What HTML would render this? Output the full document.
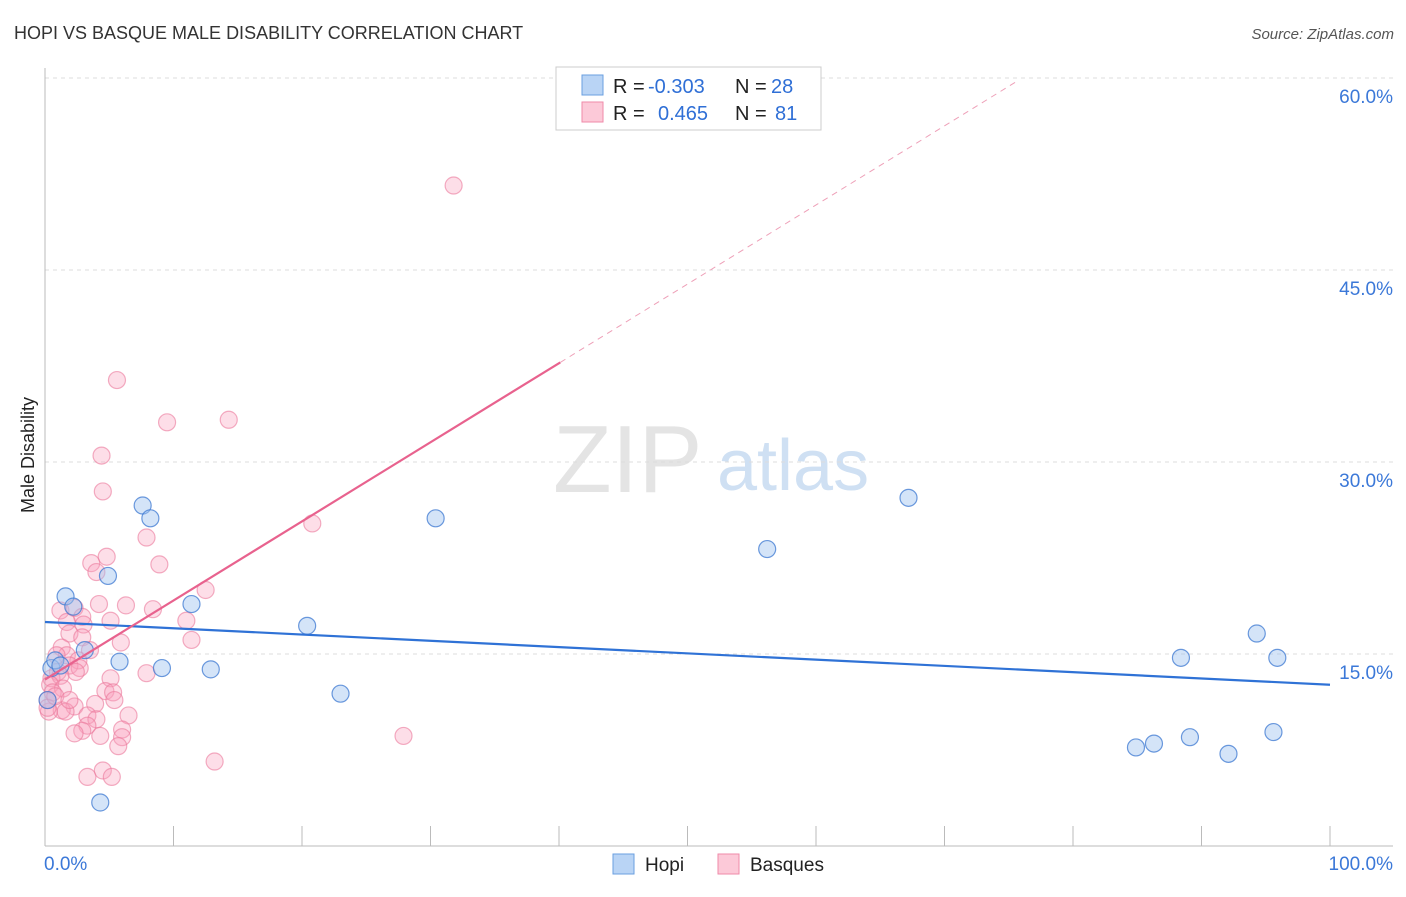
<!DOCTYPE html>
<html><head><meta charset="utf-8"><style>
body{margin:0;background:#fff;font-family:"Liberation Sans",sans-serif}
svg text{font-family:"Liberation Sans",sans-serif}
</style></head><body>
<svg id="chart" width="1406" height="892">
<text x="14" y="39" font-size="18" fill="#333">HOPI VS BASQUE MALE DISABILITY CORRELATION CHART</text>
<text x="1394" y="39" font-size="15" fill="#555" font-style="italic" text-anchor="end">Source: ZipAtlas.com</text>
<text transform="translate(34,455) rotate(-90)" font-size="18" fill="#222" text-anchor="middle">Male Disability</text>
<g>
<text x="553" y="492" font-size="96" fill="#e4e4e4" font-family="Liberation Serif,serif">ZIP</text>
<text x="717" y="490" font-size="72" fill="#cfe0f3">atlas</text>
</g>
<g id="grid"></g><g id="axes"></g><g id="marks"></g>
<g>
<rect x="556" y="67" width="265" height="63" fill="#fff" stroke="#ccc"/>
<rect x="582" y="75" width="21" height="20" fill="#b9d4f5" stroke="#6a9fe0"/>
<rect x="582" y="102" width="21" height="20" fill="#fcc9d8" stroke="#ef8aa9"/>
<text y="93" font-size="20" fill="#222"><tspan x="613">R =</tspan><tspan x="648" fill="#2f6fd6">-0.303</tspan><tspan x="735">N =</tspan><tspan x="771" fill="#2f6fd6">28</tspan></text>
<text y="120" font-size="20" fill="#222"><tspan x="613">R =</tspan><tspan x="658" fill="#2f6fd6">0.465</tspan><tspan x="735">N =</tspan><tspan x="775" fill="#2f6fd6">81</tspan></text>
</g>
<g>
<rect x="613" y="854" width="21" height="20" fill="#b9d4f5" stroke="#6a9fe0"/>
<text x="645" y="871" font-size="19" fill="#222">Hopi</text>
<rect x="718" y="854" width="21" height="20" fill="#fcc9d8" stroke="#ef8aa9"/>
<text x="750" y="871" font-size="19" fill="#222">Basques</text>
</g>
</svg>
<script>
const yTicks=[15,30,45,60];
const yTickLabels=["15.0%","30.0%","45.0%","60.0%"];
const xEndLabels=["0.0%","100.0%"];
const hopiX=[1.6,4.9,7.6,8.2,2.2,3.1,5.8,9.1,11.4,12.9,20.4,23.0,30.4,56.2,67.2,88.4,94.3,95.9,84.9,86.3,89.1,92.1,95.6,4.3,0.5,0.8,1.2,0.2];
const hopiY=[19.5,21.1,26.6,25.6,18.7,15.3,14.4,13.9,18.9,13.8,17.2,11.9,25.6,23.2,27.2,14.7,16.6,14.7,7.7,8.0,8.5,7.2,8.9,3.4,13.9,14.5,14.1,11.4];
const basqueX=[31.8,5.6,9.5,14.3,4.4,4.5,20.8,7.9,4.8,3.6,4.0,8.9,12.5,6.3,8.4,4.2,1.2,2.3,5.1,11.0,2.9,1.7,3.0,1.9,2.9,5.9,11.4,1.3,1.7,2.6,1.9,2.7,1.0,2.4,0.5,1.2,7.9,5.1,0.4,1.4,0.6,4.7,5.3,5.4,3.9,2.3,1.3,1.6,0.3,6.5,3.3,4.0,3.3,6.0,2.9,2.3,4.3,6.0,5.7,27.9,13.2,4.5,3.3,5.2,0.2,0.2,0.8,1.9,0.9,3.5];
const basqueY=[51.6,36.4,33.1,33.3,30.5,27.7,25.2,24.1,22.6,22.1,21.4,22.0,20.0,18.8,18.5,18.9,18.4,18.6,17.6,17.6,17.9,17.5,17.3,16.6,16.3,15.9,16.1,15.5,14.9,14.5,14.1,13.9,13.6,13.6,13.1,13.3,13.5,13.1,12.6,12.3,12.0,12.1,12.0,11.4,11.1,10.9,10.6,10.5,10.5,10.2,10.2,9.9,9.4,9.1,9.0,8.8,8.6,8.5,7.8,8.6,6.6,5.9,5.4,5.4,11.4,10.8,11.7,11.4,14.9,15.3];
const hopiTrend=[17.5,12.6];
const basqueIntercept=13.0, basqueSlope=0.618, basqueSolidEnd=40.1, basqueDashEnd=75.5;

const NS="http://www.w3.org/2000/svg";
const X=v=>45+v*12.85, Y=v=>846-v*12.8;
function mk(parent,tag,attrs){const e=document.createElementNS(NS,tag);for(const k in attrs)e.setAttribute(k,attrs[k]);document.getElementById(parent).appendChild(e);return e;}
yTicks.forEach((t,i)=>{
  const g=mk('grid','line',{x1:45,x2:1393,y1:Y(t),y2:Y(t),stroke:'#ddd','stroke-dasharray':'4,4'});
  
  
  const l=mk('axes','text',{x:1393,y:Y(t)+25,'font-size':19,fill:'#3b78d8','text-anchor':'end'});
  l.textContent=yTickLabels[i];
  
  
});
const ax=mk('axes','line',{x1:45,x2:1393,y1:846,y2:846,stroke:'#bbb'});


const ay=mk('axes','line',{x1:45,x2:45,y1:68,y2:846,stroke:'#bbb'});


for(let i=1;i<=10;i++){
  const t=mk('axes','line',{x1:X(i*10),x2:X(i*10),y1:826,y2:846,stroke:'#bbb'});
  
  
}
[[0,'start',44],[100,'end',1393]].forEach((a,i)=>{
  const l=mk('axes','text',{x:a[2],y:870,'font-size':19,fill:'#3b78d8','text-anchor':a[1]});
  l.textContent=xEndLabels[i];
  
  
});
basqueX.forEach((x,i)=>{
  const c=mk('marks','circle',{cx:X(x),cy:Y(basqueY[i]),r:8.5,fill:'rgba(248,160,188,0.35)',stroke:'rgba(235,120,155,0.6)','stroke-width':1.2});
  
  
});
hopiX.forEach((x,i)=>{
  const c=mk('marks','circle',{cx:X(x),cy:Y(hopiY[i]),r:8.5,fill:'rgba(160,196,240,0.45)',stroke:'rgba(60,120,210,0.75)','stroke-width':1.2});
  
  
});
const ht=mk('marks','line',{x1:X(0),y1:Y(hopiTrend[0]),x2:X(100),y2:Y(hopiTrend[1]),stroke:'#2f72d6','stroke-width':2.2});


const bt=mk('marks','line',{x1:X(0),y1:Y(basqueIntercept),x2:X(basqueSolidEnd),y2:Y(basqueIntercept+basqueSlope*basqueSolidEnd),stroke:'#e8628e','stroke-width':2.2});


const bd=mk('marks','line',{x1:X(basqueSolidEnd),y1:Y(basqueIntercept+basqueSlope*basqueSolidEnd),x2:X(basqueDashEnd),y2:Y(basqueIntercept+basqueSlope*basqueDashEnd),stroke:'#eea0b8','stroke-width':1,'stroke-dasharray':'6,5'});


</script>
</body></html>
